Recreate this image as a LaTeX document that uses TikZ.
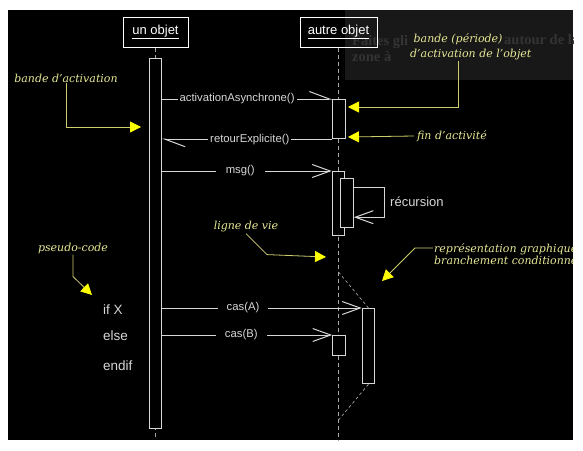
\documentclass[tikz,border=0pt]{standalone}
\usepackage{fontspec}
\setsansfont{Liberation Sans}
\newfontfamily\tipfont{Liberation Serif}
\newfontfamily\notefont{DejaVu Serif}
\usetikzlibrary{arrows.meta}
\definecolor{notefg}{RGB}{232,232,150}
\definecolor{wireyellow}{RGB}{205,205,110}
\definecolor{tipyellow}{RGB}{255,255,0}
\definecolor{umlfg}{RGB}{215,215,215}
\definecolor{tipbg}{RGB}{24,24,24}
\definecolor{tipfg}{RGB}{52,52,52}
\begin{document}
\begin{tikzpicture}[x=1pt,y=-1pt,
  objbox/.style={draw=white,line width=1pt,minimum width=65pt,minimum height=30pt,inner sep=0pt,text=white,font=\sffamily\fontsize{13}{15}\selectfont},
  actbar/.style={draw=umlfg,fill=black,line width=1.2pt,minimum width=12.5pt,inner sep=0pt,anchor=north},
  lifeline/.style={draw=gray!70,line width=1pt,dash pattern=on 4pt off 3pt},
  msgline/.style={draw=umlfg,line width=1pt},
  msgtxt/.style={fill=black,text=umlfg,inner sep=2pt,font=\sffamily\fontsize{11.3}{13}\selectfont},
  syncarrow/.style={-{Straight Barb[length=18pt,width=13pt]}},
  asyncarrow/.style={-{Straight Barb[harpoon,length=20pt,width=15pt]}},
  codetxt/.style={text=umlfg,anchor=west,inner sep=0pt,font=\sffamily\fontsize{13.5}{15}\selectfont},
  note/.style={text=notefg,inner sep=1pt,font=\notefont\itshape\fontsize{11}{15}\selectfont},
  notewire/.style={draw=wireyellow,line width=0.8pt,-{Triangle[length=11pt,width=11pt,color=tipyellow]}},
  branchline/.style={draw=gray!60,line width=0.6pt,dash pattern=on 3pt off 2.5pt},
  tiptxt/.style={text=tipfg,anchor=west,inner sep=0pt,font=\tipfont\bfseries\fontsize{14.5}{16}\selectfont}]
  \useasboundingbox (0,0) rectangle (583,450);
  \fill[white] (0,0) rectangle (583,450);
  \fill[black] (8,10) rectangle (573,440);
  \begin{scope}
  \clip (8,10) rectangle (573,440);
  % tooltip behind the notes
  \fill[tipbg] (345,10) rectangle (573,80);
  \node[tiptxt] (tipA) at (352,42) {Faites gli};
  \node[tiptxt] (tipB) at (504,40) {autour de la};
  \node[tiptxt] (tipC) at (352,57) {zone à};
  % objects and lifelines
  \node[objbox] (obj1) at (155.5,32) {\underline{un objet}};
  \node[objbox,minimum width=77pt] (obj2) at (338.5,32) {\underline{autre objet}};
  \draw[lifeline] (obj1.south) -- (obj1.south |- 0,438);
  \draw[lifeline] (obj2.south) -- (obj2.south |- 0,442);
  % activation bars
  \node[actbar,minimum height=370pt] (act1) at (155.5,58) {};
  \node[actbar,minimum height=39pt] (act2) at (339,99) {};
  \node[actbar,minimum height=64pt] (act3) at (338.5,171) {};
  \node[actbar,minimum height=49pt] (act3b) at (347,178) {};
  \node[actbar,minimum height=75pt] (act4) at (368.5,308) {};
  \node[actbar,minimum height=20pt] (act5) at (339,335) {};
  % messages
  \draw[msgline,asyncarrow] (act1.east |- act2.north) -- node[msgtxt,pos=0.44] {activationAsynchrone()} (act2.north west);
  \draw[msgline,asyncarrow] (act2.south west) -- node[msgtxt,pos=0.485] {retourExplicite()} (act1.east |- act2.south);
  \draw[msgline,syncarrow] (act1.east |- act3.north) -- node[msgtxt,pos=0.46,inner xsep=10pt] {msg()} (act3.north west);
  \draw[msgline,syncarrow] ([yshift=-9pt]act3b.north east) -- ++(31,0) |- ([yshift=11pt]act3b.south east);
  \node[text=umlfg,anchor=west,inner sep=0pt,font=\sffamily\fontsize{13}{15}\selectfont] (recur) at (390,202) {récursion};
  \draw[msgline,syncarrow] (act1.east |- act4.north) -- node[msgtxt,pos=0.405,inner xsep=9pt] {cas(A)} (act4.north west);
  \draw[msgline,syncarrow] (act1.east |- act5.north) -- node[msgtxt,pos=0.465,inner xsep=9pt] {cas(B)} (act5.north west);
  % conditional branch
  \coordinate (brtop) at (338.5,272);
  \coordinate (brbot) at (338.5,420);
  \draw[branchline] (brtop) -- (act4.north);
  \draw[branchline] (act4.south) -- (brbot);
  \node[codetxt] (ifx) at (103,310) {if X};
  \node[codetxt] (elsex) at (103,336) {else};
  \node[codetxt] (endifx) at (103,366) {endif};
  % notes
  \node[note] (nbande) at (66,78) {bande d’activation};
  \coordinate (tbande) at (141,127);
  \draw[notewire] (nbande.south) |- (tbande);
  \node[note,align=left,anchor=west] (nperiode) at (409,47) {\ bande (période)\\d’activation de l’objet};
  \coordinate (tperiode) at (348,107);
  \draw[notewire] (nperiode.south -| 458,0) |- (tperiode);
  \node[note] (nfin) at (452,136) {fin d’activité};
  \coordinate (tfin) at (348,137);
  \draw[notewire] ([xshift=-2pt]nfin.west) -- (tfin);
  \node[note] (nvie) at (246,227) {ligne de vie};
  \coordinate (tvie) at (326,257);
  \draw[notewire] (nvie.south) -- ++(21,21) -- (tvie);
  \node[note] (npseudo) at (73,248) {pseudo-code};
  \coordinate (tpseudo) at (92,295);
  \draw[notewire] (npseudo.south) -- ++(0,22) -- (tpseudo);
  \node[note,align=left,anchor=west,font=\notefont\itshape\fontsize{11}{12.5}\selectfont] (nbranch) at (433,254) {représentation graphique\\branchement conditionnel};
  \coordinate (tbranch) at (382,281);
  \draw[notewire] ([yshift=6pt]nbranch.west) -- ++(-18,0) -- (tbranch);
  \end{scope}
\end{tikzpicture}
\end{document}
